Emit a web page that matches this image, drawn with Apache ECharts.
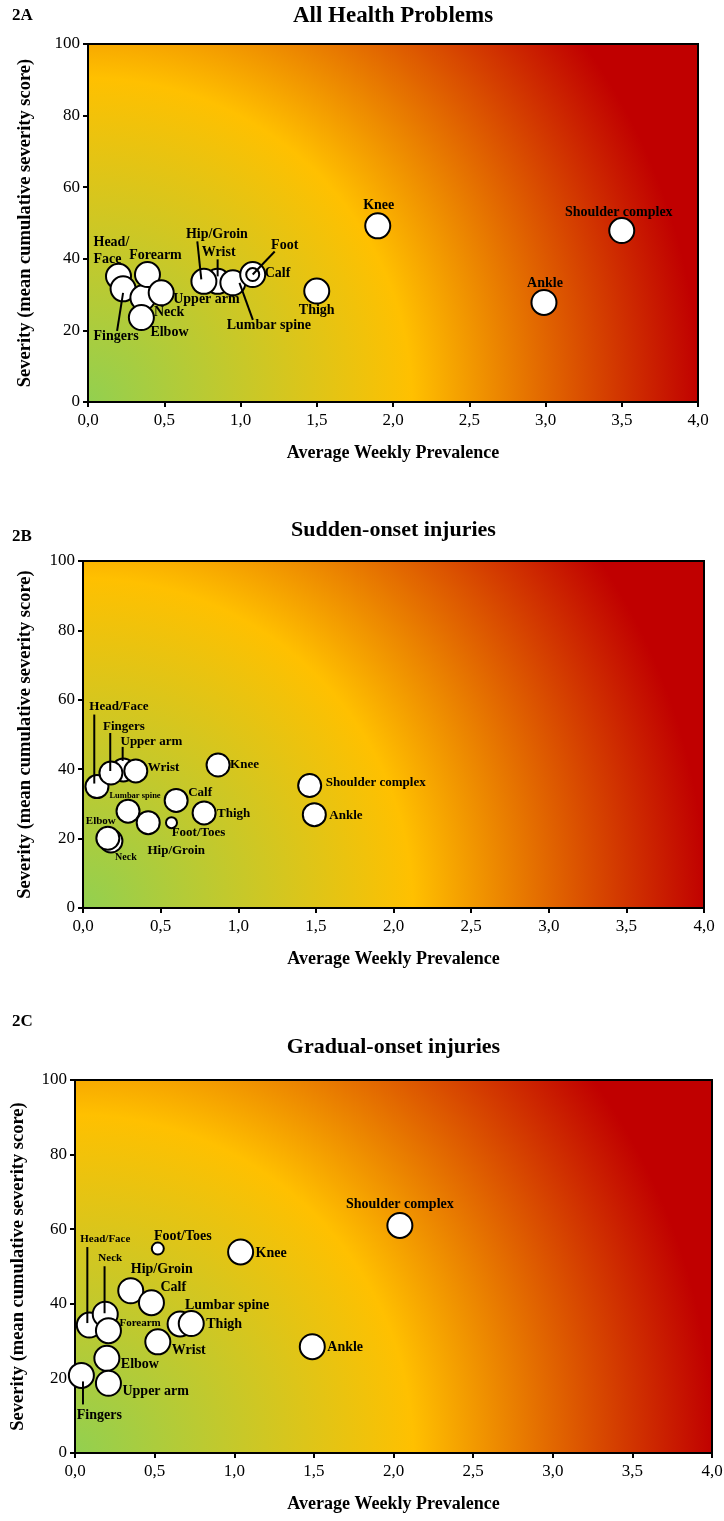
<!DOCTYPE html>
<html><head><meta charset="utf-8">
<script src="https://cdn.jsdelivr.net/npm/echarts@6/dist/echarts.min.js"></script>
<style>html,body{margin:0;padding:0;background:#fff}#c{width:724px;height:1521px}</style>
</head><body><div id="c"></div>
<script>
// ---------- data ----------
const xTickLabels = ['0,0','0,5','1,0','1,5','2,0','2,5','3,0','3,5','4,0'];
const yTickLabels = ['0','20','40','60','80','100'];

// 2A All Health Problems
const namesA = ['Head/Face','Fingers','Neck','Forearm','Upper arm','Elbow','Wrist','Hip/Groin','Lumbar spine','Calf','Foot','Thigh','Knee','Shoulder complex','Ankle'];
const prevA  = [0.20, 0.23, 0.36, 0.39, 0.48, 0.35, 0.85, 0.76, 0.95, 1.08, 1.08, 1.50, 1.90, 3.50, 2.99];
const sevA   = [35.1, 31.6, 29.1, 35.6, 30.5, 23.6, 33.7, 33.7, 33.3, 35.6, 35.6, 31.0, 49.2, 47.9, 27.8];

// 2B Sudden-onset injuries
const namesB = ['Upper arm','Head/Face','Fingers','Wrist','Lumbar spine','Hip/Groin','Neck','Elbow','Calf','Foot/Toes','Thigh','Knee','Shoulder complex','Ankle'];
const prevB  = [0.26, 0.09, 0.18, 0.34, 0.29, 0.42, 0.18, 0.16, 0.60, 0.57, 0.78, 0.87, 1.46, 1.49];
const sevB   = [39.8, 35.0, 38.9, 39.5, 27.9, 24.6, 19.3, 20.1, 31.0, 24.6, 27.4, 41.2, 35.3, 26.9];

// 2C Gradual-onset injuries
const namesC = ['Head/Face','Neck','Forearm','Hip/Groin','Calf','Foot/Toes','Knee','Lumbar spine','Thigh','Wrist','Elbow','Upper arm','Fingers','Ankle','Shoulder complex'];
const prevC  = [0.09, 0.19, 0.21, 0.35, 0.48, 0.52, 1.04, 0.66, 0.73, 0.52, 0.20, 0.21, 0.04, 1.49, 2.04];
const sevC   = [34.3, 37.2, 32.8, 43.5, 40.3, 54.8, 53.9, 34.6, 34.7, 29.8, 25.4, 18.7, 20.8, 28.5, 61.0];

// ---------- styles / placements ----------
const FONT = 'Liberation Serif';
const labelsA = {
  'Head/Face':{text:'Head/\nFace',dx:-25,dy:-25,align:'left',lh:17},
  'Fingers':{dx:-7,dy:48},
  'Forearm':{dx:8,dy:-19},
  'Neck':{dx:11,dy:15,align:'left'},
  'Upper arm':{dx:12,dy:7,align:'left'},
  'Elbow':{dx:9,dy:15,align:'left'},
  'Hip/Groin':{dx:13,dy:-47},
  'Wrist':{dx:1,dy:-29},
  'Lumbar spine':{dx:36,dy:43},
  'Calf':{dx:12,dy:-1,align:'left'},
  'Foot':{dx:32,dy:-29},
  'Thigh':{dx:0,dy:19},
  'Knee':{dx:1,dy:-20},
  'Shoulder complex':{dx:-3,dy:-18},
  'Ankle':{dx:1,dy:-19}
};
const leadersA = {
  'Fingers':[0,4,-6,42], 'Hip/Groin':[-6.6,-40,-2.6,-2], 'Wrist':[0,-22,0,-5],
  'Lumbar spine':[6.6,0,20,37], 'Foot':[0,0,22,-23]
};
const labelsB = {
  'Head/Face':{dx:22,dy:-80},
  'Fingers':{dx:13,dy:-46},
  'Upper arm':{dx:28,dy:-28},
  'Wrist':{dx:12,dy:-3,align:'left'},
  'Lumbar spine':{dx:7,dy:-15,fs:8.5},
  'Hip/Groin':{dx:28,dy:28},
  'Elbow':{dx:-7,dy:-17,fs:11},
  'Neck':{dx:15,dy:16,fs:10},
  'Calf':{dx:12,dy:-8,align:'left'},
  'Foot/Toes':{dx:27,dy:10},
  'Thigh':{dx:13,dy:1,align:'left'},
  'Knee':{dx:12,dy:0,align:'left'},
  'Shoulder complex':{dx:16,dy:-3,align:'left'},
  'Ankle':{dx:15,dy:1,align:'left'}
};
const leadersB = {
  'Head/Face':[-2.7,-72,-2.7,-3], 'Fingers':[-0.7,-40,-0.7,-2], 'Upper arm':[-0.7,-23,-0.7,-9]
};
const labelsC = {
  'Head/Face':{dx:16,dy:-86,fs:11},
  'Neck':{dx:5,dy:-56,fs:11},
  'Forearm':{dx:11,dy:-7,align:'left',fs:11},
  'Hip/Groin':{dx:31,dy:-21},
  'Calf':{dx:9,dy:-15,align:'left'},
  'Foot/Toes':{dx:25,dy:-12},
  'Knee':{dx:15,dy:1,align:'left'},
  'Lumbar spine':{dx:47,dy:-19},
  'Thigh':{dx:15,dy:1,align:'left'},
  'Wrist':{dx:14,dy:9,align:'left'},
  'Elbow':{dx:14,dy:6,align:'left'},
  'Upper arm':{dx:14,dy:8,align:'left'},
  'Fingers':{dx:18,dy:40},
  'Ankle':{dx:15,dy:1,align:'left'},
  'Shoulder complex':{dx:0,dy:-21}
};
const leadersC = {
  'Head/Face':[-2,-78,-2,-2], 'Neck':[-0.7,-48,-0.7,-1], 'Fingers':[1.6,6,1.6,29]
};

const panels = [
  {tag:'2A', title:'All Health Problems', names:namesA, xs:prevA, ys:sevA, labels:labelsA, leaders:leadersA,
   grid:{left:88, top:44, width:610, height:358}, size:25, small:['Foot'], smallSize:13, fs:14,
   tagY:16, titleY:16, titleFs:23, yGap:53},
  {tag:'2B', title:'Sudden-onset injuries', names:namesB, xs:prevB, ys:sevB, labels:labelsB, leaders:leadersB,
   grid:{left:83, top:561, width:621, height:347}, size:23, small:['Foot/Toes'], smallSize:11, fs:13,
   tagY:537, titleY:530, titleFs:22, yGap:48},
  {tag:'2C', title:'Gradual-onset injuries', names:namesC, xs:prevC, ys:sevC, labels:labelsC, leaders:leadersC,
   grid:{left:75, top:1080, width:637, height:373}, size:25, small:['Foot/Toes'], smallSize:12, fs:14,
   tagY:1022, titleY:1047, titleFs:22, yGap:47}
];

function bg(w,h){
  return new echarts.graphic.RadialGradient(0, 1, w/h, [
    {offset:0, color:'#92D050'}, {offset:0.53, color:'#FFC000'}, {offset:1, color:'#C00000'}
  ]);
}

const option = {animation:false, backgroundColor:'#fff', grid:[], xAxis:[], yAxis:[], series:[], graphic:[]};
panels.forEach((p,i)=>{
  option.grid.push(Object.assign({show:true, backgroundColor:bg(p.grid.width,p.grid.height),
    borderColor:'#000', borderWidth:2, containLabel:false, outerBoundsMode:'none'}, p.grid));
  option.xAxis.push({type:'value', gridIndex:i, min:0, max:4, interval:0.5,
    name:'Average Weekly Prevalence', nameLocation:'middle', nameGap:42,
    nameTextStyle:{fontFamily:FONT, fontWeight:'bold', fontSize:18, color:'#000'},
    axisLine:{show:true, onZero:false, lineStyle:{color:'#000', width:2}},
    axisTick:{show:true, inside:false, length:5, lineStyle:{color:'#000', width:2}},
    axisLabel:{fontFamily:FONT, fontSize:17, color:'#000', margin:10,
      formatter:v=>xTickLabels[Math.round(v/0.5)]},
    splitLine:{show:false}});
  option.yAxis.push({type:'value', gridIndex:i, min:0, max:100, interval:20,
    name:'Severity (mean cumulative severity score)', nameLocation:'middle', nameGap:p.yGap,
    nameTextStyle:{fontFamily:FONT, fontWeight:'bold', fontSize:18.5, color:'#000'},
    axisLine:{show:true, onZero:false, lineStyle:{color:'#000', width:2}},
    axisTick:{show:true, inside:false, length:5, lineStyle:{color:'#000', width:2}},
    axisLabel:{fontFamily:FONT, fontSize:17, color:'#000', margin:8,
      formatter:v=>yTickLabels[Math.round(v/20)]},
    splitLine:{show:false}});
  option.series.push({type:'scatter', xAxisIndex:i, yAxisIndex:i, z:3, silent:true, symbol:'circle',
    itemStyle:{color:'#fff', borderColor:'#000', borderWidth:2, opacity:1},
    emphasis:{disabled:true},
    data:p.names.map((n,k)=>{
      const L = p.labels[n] || {dx:0,dy:-18};
      return {name:n, value:[p.xs[k], p.ys[k]],
        symbolSize: p.small.includes(n) ? p.smallSize : p.size,
        label:{show:true, position:'inside', offset:[L.dx, L.dy], align:L.align||'center', verticalAlign:'middle',
          formatter:L.text||n, color:'#000', fontFamily:FONT, fontWeight:'bold', fontSize:L.fs||p.fs,
          lineHeight:L.lh||Math.round((L.fs||p.fs)*1.2), textBorderWidth:0}};
    })});
  option.series.push({type:'custom', xAxisIndex:i, yAxisIndex:i, z:4, silent:true,
    data:p.names.map((n,k)=>[p.xs[k], p.ys[k]]),
    renderItem:(params, api)=>{
      const L = p.leaders[p.names[params.dataIndex]];
      if(!L) return null;
      const c = api.coord([api.value(0), api.value(1)]);
      return {type:'line', shape:{x1:c[0]+L[0], y1:c[1]+L[1], x2:c[0]+L[2], y2:c[1]+L[3]},
        style:{stroke:'#000', lineWidth:2}};
    }});
  option.graphic.push({type:'text', x:12, y:p.tagY, silent:true,
    style:{text:p.tag, fontFamily:FONT, fontWeight:'bold', fontSize:17, fill:'#000', verticalAlign:'middle'}});
  option.graphic.push({type:'text', x:p.grid.left+p.grid.width/2, y:p.titleY, silent:true,
    style:{text:p.title, fontFamily:FONT, fontWeight:'bold', fontSize:p.titleFs, fill:'#000', align:'center', verticalAlign:'middle'}});
});

const chart = echarts.init(document.getElementById('c'), null, {renderer:'canvas'});
chart.setOption(option);
</script>
</body></html>
